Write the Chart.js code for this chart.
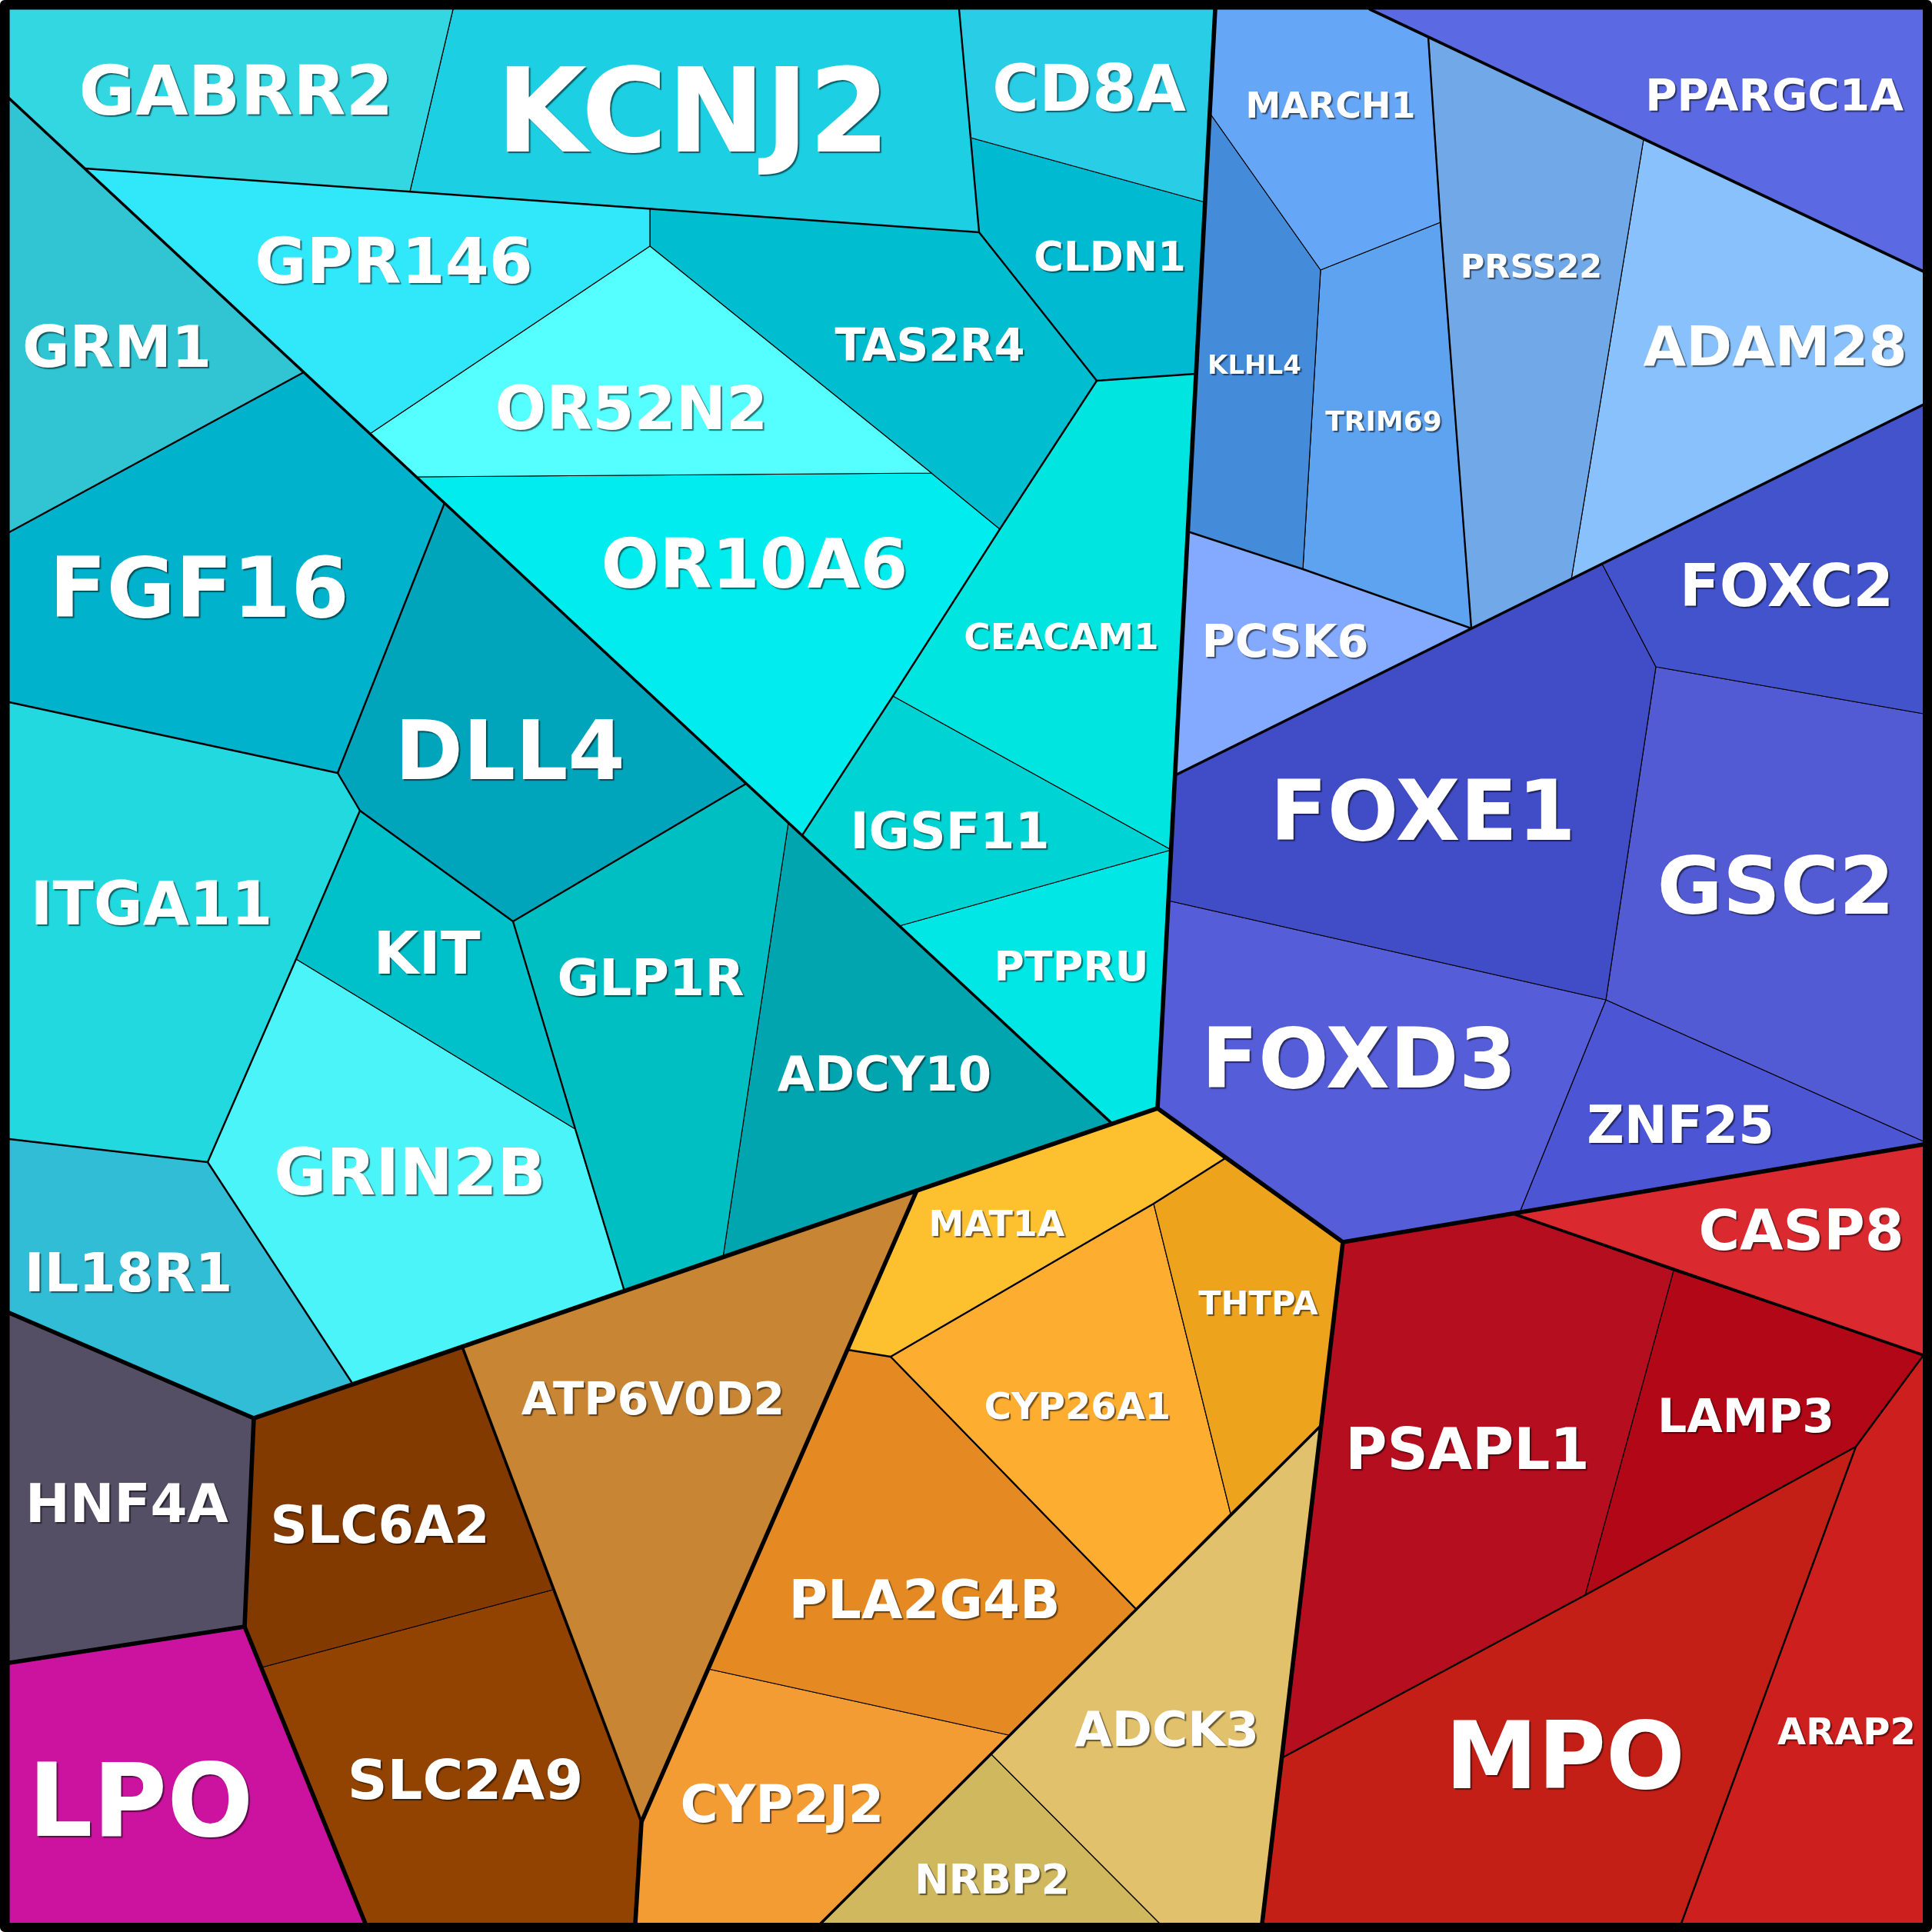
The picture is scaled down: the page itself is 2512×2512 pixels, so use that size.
<!DOCTYPE html>
<html>
<head>
<meta charset="utf-8">
<script src="https://cdn.jsdelivr.net/npm/chart.js@4.4.0/dist/chart.umd.min.js"></script>
<style>
  html, body { margin: 0; padding: 0; background: #ffffff; }
  canvas { display: block; }
</style>
</head>
<body>
<canvas id="c" width="2512" height="2512"></canvas>
<script>
// ---------- DATA (units = reference pixels) ----------
const cellNames = [
  "GABRR2","KCNJ2","CD8A","CLDN1","GPR146","OR52N2","TAS2R4","OR10A6","CEACAM1","IGSF11","PTPRU",
  "GRM1","FGF16","DLL4","ITGA11","KIT","GRIN2B","IL18R1","GLP1R","ADCY10",
  "HNF4A","LPO","SLC6A2","SLC2A9","ATP6V0D2",
  "MAT1A","THTPA","CYP26A1","PLA2G4B","CYP2J2","ADCK3","NRBP2",
  "MARCH1","PPARGC1A","PRSS22","ADAM28","KLHL4","TRIM69","PCSK6",
  "FOXC2","FOXE1","GSC2","FOXD3","ZNF25",
  "CASP8","PSAPL1","LAMP3","MPO","ARAP2"
];

// polygon vertices of every Voronoi cell (x, y)
const cellPolygons = [
  [[12,12],[589,12],[533,249],[110,219],[12,128]],
  [[589,12],[1247,12],[1262,179],[1273,302],[845,271],[533,249]],
  [[1247,12],[1580,12],[1573,147],[1567,263],[1262,179]],
  [[1262,179],[1567,263],[1555,486],[1426,495],[1273,302]],
  [[110,219],[533,249],[845,271],[845,320],[481,564]],
  [[481,564],[845,320],[1211,615],[541,620]],
  [[845,271],[1273,302],[1426,495],[1300,688],[1211,615],[845,320]],
  [[541,620],[1211,615],[1300,688],[1161,905],[1043,1086]],
  [[1426,495],[1555,486],[1544,691],[1528,1008],[1523,1105],[1161,905],[1300,688]],
  [[1161,905],[1523,1105],[1169,1204],[1043,1086]],
  [[1169,1204],[1523,1105],[1519,1171],[1505,1441],[1446,1461]],
  [[12,128],[110,219],[395,484],[12,692]],
  [[12,692],[395,484],[481,564],[541,620],[578,654],[439,1005],[12,913]],
  [[578,654],[970,1019],[667,1198],[468,1054],[439,1005]],
  [[12,913],[439,1005],[468,1054],[385,1247],[270,1511],[12,1481]],
  [[468,1054],[667,1198],[748,1468],[385,1247]],
  [[385,1247],[748,1468],[812,1679],[459,1800],[270,1511]],
  [[12,1481],[270,1511],[459,1800],[330,1844],[12,1707]],
  [[667,1198],[970,1019],[1025,1070],[940,1635],[812,1679],[748,1468]],
  [[1025,1070],[1043,1086],[1169,1204],[1446,1461],[1192,1548],[940,1635]],
  [[12,1707],[330,1844],[318,2115],[12,2162]],
  [[12,2162],[318,2115],[340,2168],[475,2501],[12,2501]],
  [[330,1844],[459,1800],[601,1751],[719,2067],[340,2168],[318,2115]],
  [[340,2168],[719,2067],[834,2369],[826,2501],[475,2501]],
  [[601,1751],[812,1679],[940,1635],[1192,1548],[1102,1755],[921,2170],[834,2369],[719,2067]],
  [[1192,1548],[1446,1461],[1505,1441],[1593,1506],[1500,1565],[1158,1764],[1102,1755]],
  [[1593,1506],[1746,1615],[1718,1853],[1600,1968],[1500,1565]],
  [[1500,1565],[1600,1968],[1477,2092],[1158,1764]],
  [[1102,1755],[1158,1764],[1477,2092],[1312,2256],[921,2170]],
  [[921,2170],[1312,2256],[1288,2280],[1067,2501],[826,2501],[834,2369]],
  [[1718,1853],[1666,2286],[1641,2501],[1508,2501],[1288,2280],[1312,2256],[1477,2092],[1600,1968]],
  [[1288,2280],[1508,2501],[1067,2501]],
  [[1580,12],[1781,12],[1857,48],[1873,289],[1717,351],[1573,147]],
  [[1781,12],[2501,12],[2501,353],[2137,181],[1857,48]],
  [[1857,48],[2137,181],[2043,753],[1913,817],[1873,289]],
  [[2137,181],[2501,353],[2501,526],[2083,733],[2043,753]],
  [[1573,147],[1717,351],[1694,740],[1544,691]],
  [[1717,351],[1873,289],[1913,817],[1694,740]],
  [[1544,691],[1694,740],[1913,817],[1528,1008]],
  [[2083,733],[2501,526],[2501,928],[2153,867]],
  [[1528,1008],[2083,733],[2153,867],[2088,1300],[1519,1171]],
  [[2153,867],[2501,928],[2501,1484],[2088,1300]],
  [[1519,1171],[2088,1300],[1976,1576],[1746,1615],[1505,1441]],
  [[2088,1300],[2501,1484],[2501,1488],[1976,1576]],
  [[1967,1578],[2501,1488],[2501,1762],[2176,1652]],
  [[1746,1615],[1967,1578],[2176,1652],[2061,2074],[1666,2286],[1718,1853]],
  [[2176,1652],[2501,1762],[2413,1881],[2061,2074]],
  [[1666,2286],[2061,2074],[2413,1881],[2186,2501],[1641,2501]],
  [[2413,1881],[2501,1762],[2501,2501],[2186,2501]]
];

// label anchor (centre x, baseline y)
const labelX = [307,901,1416,1443,512,821,1209,981,1380,1235,1393,
  152,259,663,197,555,533,167,846,1150,
  165,183,494,605,849,
  1296,1636,1401,1202,1017,1517,1290,
  1730,2307,1991,2308,1631,1799,1671,
  2323,1850,2309,1767,2185,
  2342,1908,2270,2035,2401];
const labelY = [149,197,144,352,368,558,469,764,844,1103,1275,
  477,802,1013,1202,1266,1553,1679,1294,1418,
  1979,2387,2006,2339,1839,
  1607,1709,1845,2104,2369,2270,2462,
  153,144,361,475,486,560,854,
  788,1092,1188,1414,1486,
  1625,1910,1862,2325,2268];

// ---------- STYLE ----------
const cellColors = [
  "#33D7E2","#1CCFE2","#29CDE6","#00BAD1","#31E7FA","#55FFFF","#00BDD0","#00ECEE","#00E5DF","#00D3D3","#00E7E6",
  "#31C5D3","#00B2CB","#00A5BB","#21D9DF","#00C1CA","#4AF4F8","#31BDD6","#00BFC2","#00A5AF",
  "#554F66","#CC13A0","#833A00","#924302","#C88534",
  "#FDC02F","#EEA31C","#FDAD2F","#E58A23","#F49C34","#E1C16B","#D0B85E",
  "#66A6F7","#5B6AE2","#71A9E8","#88C1FC","#448CDA","#5EA3F0","#84AAFF",
  "#4253CC","#404DC6","#525BD4","#565DD8","#4C55D4",
  "#DA2A30","#B40E1F","#B10716","#C41F17","#CD1F1E"
];
const labelSize = [89,152,83,53,82,78,58,89,47,65,54,
  75,109,107,78,76,83,70,66.5,62.5,
  69,132,67,72,59,
  46,43,48,69,67,63,53,
  46,56.5,43,72,34,36,59,
  76,109,104,108,67,
  73,74,60,121,48];

// hierarchy boundary polylines
const groupLines = [
  [[1580,12],[1505,1441]],
  [[12,1707],[330,1844],[601,1751],[1192,1548],[1505,1441]],
  [[1505,1441],[1746,1615],[2501,1488]],
  [[1746,1615],[1641,2501]],
  [[1192,1548],[834,2369],[826,2501]],
  [[330,1844],[318,2115],[475,2501]],
  [[12,2162],[318,2115]]
];
const subGroupLines = [
  [[12,128],[1446,1461]],
  [[1781,12],[2501,353]],
  [[2501,526],[1528,1008]],
  [[1967,1578],[2501,1762]],
  [[601,1751],[834,2369]],
  [[1718,1853],[1067,2501]]
];
const innerLines = [
  [[110,219],[1273,302]],
  [[1247,12],[1273,302],[1426,495],[1555,486]],
  [[1426,495],[1300,688],[1161,905],[1043,1086]],
  [[12,692],[395,484]],
  [[12,913],[439,1005],[578,654]],
  [[439,1005],[468,1054],[667,1198],[970,1019]],
  [[468,1054],[385,1247],[270,1511],[12,1481]],
  [[270,1511],[459,1800]],
  [[667,1198],[748,1468],[812,1679]],
  [[1857,48],[1873,289],[1913,817]],
  [[1544,691],[1694,740],[1913,817]],
  [[1666,2286],[2061,2074],[2413,1881],[2501,1762]],
  [[2413,1881],[2186,2501]],
  [[1593,1506],[1500,1565],[1158,1764],[1102,1755]],
  [[1158,1764],[1477,2092]]
];
const frame = [[6,6],[2506,6],[2506,2506],[6,2506],[6,6]];

// ---------- BUILD ----------
const toPts = arr => arr.map(p => ({x: p[0], y: p[1]}));
const datasets = [];
cellNames.forEach((name, i) => {
  const poly = cellPolygons[i].concat([cellPolygons[i][0]]);
  datasets.push({
    label: name,
    data: toPts(poly),
    backgroundColor: cellColors[i],
    borderColor: "#000000",
    borderWidth: 1.2,
    borderJoinStyle: "round",
    fill: "shape",
    pointRadius: 0,
    tension: 0,
    order: 10
  });
});
function addLines(lines, width, order) {
  lines.forEach(l => datasets.push({
    data: toPts(l), borderColor: "#000000", borderWidth: width,
    borderJoinStyle: "round", borderCapStyle: "round",
    fill: false, pointRadius: 0, tension: 0, order: order
  }));
}
addLines(innerLines, 2.4, 4);
addLines(subGroupLines, 3.6, 3);
addLines(groupLines, 5.6, 2);
addLines([frame], 12, 1);

const labelPlugin = {
  id: "cellLabels",
  afterDatasetsDraw(chart) {
    const {ctx} = chart;
    const xs = chart.scales.x, ys = chart.scales.y;
    ctx.save();
    ctx.textAlign = "center";
    ctx.textBaseline = "alphabetic";
    cellNames.forEach((n, i) => {
      ctx.font = "bold " + labelSize[i] + "px 'DejaVu Sans'";
      ctx.shadowColor = "rgba(0,0,0,0.55)";
      ctx.shadowOffsetX = 2;
      ctx.shadowOffsetY = 2;
      ctx.shadowBlur = 1.2;
      ctx.fillStyle = "#ffffff";
      ctx.fillText(n, xs.getPixelForValue(labelX[i]), ys.getPixelForValue(labelY[i]));
    });
    ctx.restore();
  }
};

new Chart(document.getElementById("c"), {
  type: "line",
  data: {datasets},
  options: {
    responsive: false,
    animation: false,
    devicePixelRatio: 1,
    layout: {padding: 0},
    plugins: {legend: {display: false}, tooltip: {enabled: false}, title: {display: false}},
    elements: {point: {radius: 0, hoverRadius: 0}, line: {tension: 0}},
    scales: {
      x: {type: "linear", min: 0, max: 2512, display: false},
      y: {type: "linear", min: 0, max: 2512, reverse: true, display: false}
    }
  },
  plugins: [labelPlugin]
});
</script>
</body>
</html>
